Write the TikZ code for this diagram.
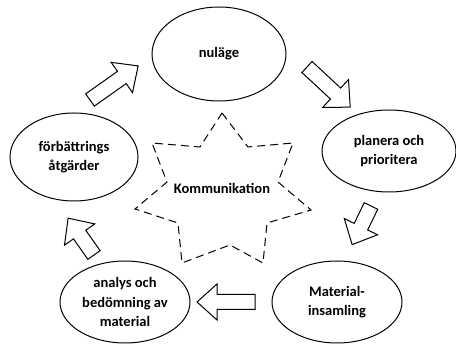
\documentclass[tikz,border=0pt]{standalone}
\usepackage{fontspec}
\setmainfont{Carlito}
\usetikzlibrary{shapes.geometric}
\begin{document}
\begin{tikzpicture}[x=1pt,y=-1pt,
  oval/.style={draw,line width=1pt,shape=ellipse,inner sep=0pt,align=center,
    font=\fontsize{14.5}{19.5}\selectfont\bfseries},
  blockarr/.style={draw,line width=1pt,fill=white,line join=miter},
  starline/.style={draw,line width=1pt,dash pattern=on 8pt off 5pt}]
\useasboundingbox (0,0) rectangle (456,344);
% ovals
\node[oval,minimum width=134pt,minimum height=94pt] (nul) at (219,54) {nuläge};
\node[oval,minimum width=134pt,minimum height=82pt] (plan) at (389,151) {planera och\\prioritera};
\node[oval,minimum width=130pt,minimum height=82pt] (mat) at (337,302) {Material-\\insamling};
\node[oval,minimum width=130pt,minimum height=82pt] (ana) at (125,302) {analys och\\bedömning av\\material};
\node[oval,minimum width=128pt,minimum height=88pt] (forb) at (74,157) {förbättrings\\åtgärder};
% star
\draw[starline] (222,113) -- (248,147) -- (293,143) -- (278,182) -- (311,210)
  -- (267,223) -- (263,263) -- (230,245) -- (182,263) -- (178,223)
  -- (135,209) -- (167,182) -- (152,143) -- (200,147) -- cycle;
\node[font=\fontsize{14.5}{19.5}\selectfont\bfseries] (komm) at (222,188) {Kommunikation};
% block arrows: shift to tail, rotate to direction
\newcommand{\blockarrow}[4]{%
  \begin{scope}[shift={(#1)},rotate=#2]
    \draw[blockarr] (0,-7.5) -- (#3-20,-7.5) -- (#3-20,-#4) -- (#3,0)
      -- (#3-20,#4) -- (#3-20,7.5) -- (0,7.5) -- cycle;
  \end{scope}}
\blockarrow{90,100}{35.3}{59}{18.5}
\blockarrow{307,67}{-42.9}{59}{19}
\blockarrow{371,206}{-116}{43}{18.5}
\blockarrow{255,302}{180}{58}{18}
\blockarrow{94,255}{125.1}{45}{18.5}
\end{tikzpicture}
\end{document}
